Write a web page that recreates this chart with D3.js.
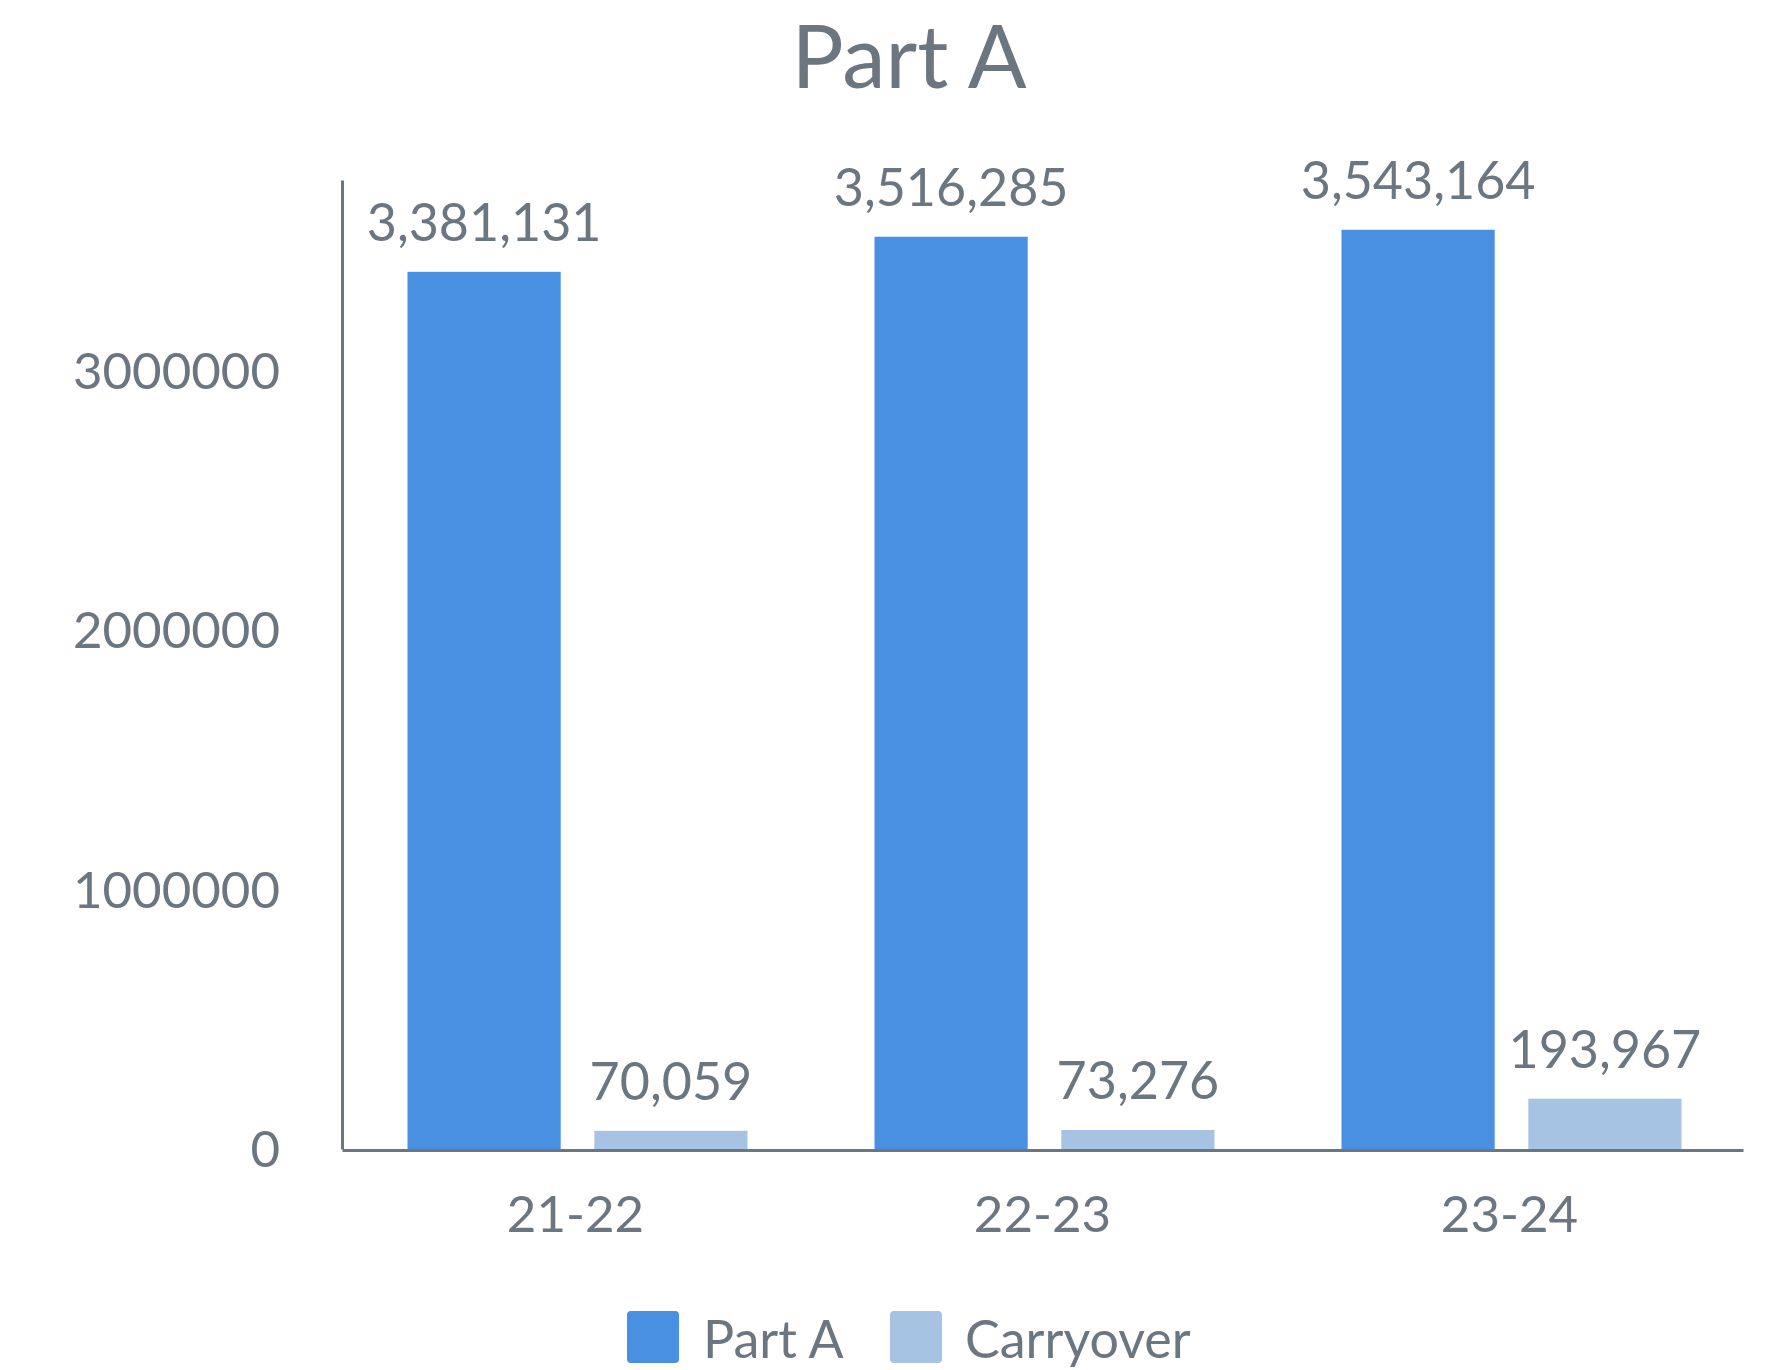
<!DOCTYPE html>
<html>
<head>
<meta charset="utf-8">
<script src="https://cdn.jsdelivr.net/npm/d3@7"></script>
<style>
  html, body { margin: 0; padding: 0; background: #ffffff; }
  svg { display: block; font-family: Lato, "Open Sans", sans-serif; }
</style>
</head>
<body>
<svg id="chart" width="1772" height="1370"></svg>
<script>
const categories = ["21-22", "22-23", "23-24"];
const seriesNames = ["Part A", "Carryover"];
const partA = [3381131, 3516285, 3543164];
const carryover = [70059, 73276, 193967];
const yTicks = [0, 1000000, 2000000, 3000000];
const yMax = 3735000;
const colors = ["#4a90e2", "#a7c3e3"];
const textColor = "#6c7680";

(function () {
const svg = d3.select("#chart");
const plotLeft = 342, plotRight = 1743, plotTop = 180, plotBottom = 1149;

const x0 = d3.scaleBand().domain(categories).range([plotLeft, plotRight]).paddingInner(0).paddingOuter(0);
const x1 = d3.scaleBand().domain(seriesNames).range([2, x0.bandwidth() + 2]).paddingInner(0.18).paddingOuter(0.34);
const y = d3.scaleLinear().domain([0, yMax]).range([plotBottom, plotTop]);
const color = d3.scaleOrdinal().domain(seriesNames).range(colors);

const rows = categories.map((c, i) => ({cat: c, values: [
  {name: "Part A", value: partA[i]},
  {name: "Carryover", value: carryover[i]}
]}));

// Title
svg.append("text")
  .attr("x", 909).attr("y", 88)
  .attr("text-anchor", "middle")
  .attr("font-size", 87)
  .attr("fill", textColor)
  .text("Part A");

// Bars
const groups = svg.append("g").selectAll("g").data(rows).join("g")
  .attr("transform", d => `translate(${x0(d.cat)},0)`);

groups.selectAll("rect").data(d => d.values).join("rect")
  .attr("x", d => x1(d.name))
  .attr("y", d => y(d.value))
  .attr("width", x1.bandwidth())
  .attr("height", d => y(0) - y(d.value))
  .attr("fill", d => color(d.name));

const fmt = d3.format(",");
groups.selectAll("text.val").data(d => d.values).join("text")
  .attr("class", "val")
  .attr("x", d => x1(d.name) + x1.bandwidth() / 2)
  .attr("y", d => y(d.value) - 31)
  .attr("text-anchor", "middle")
  .attr("font-size", 52)
  .attr("fill", textColor)
  .text(d => fmt(d.value));

// Y axis
const yAxis = d3.axisLeft(y).tickValues(yTicks).tickFormat(d3.format("d")).tickSize(0).tickPadding(62);
const gy = svg.append("g").attr("transform", `translate(${plotLeft},0)`).call(yAxis);
gy.select(".domain").attr("stroke", textColor).attr("stroke-width", 3);
gy.selectAll("text").attr("font-size", 51).attr("fill", textColor).attr("font-family", "Lato, sans-serif").attr("dy", "0.35em");

// X axis
const xAxis = d3.axisBottom(x0).tickSize(0).tickPadding(46);
const gx = svg.append("g").attr("transform", `translate(0,${plotBottom + 1})`).call(xAxis);
gx.select(".domain").attr("stroke", textColor).attr("stroke-width", 3);
gx.selectAll("text").attr("font-size", 51).attr("fill", textColor).attr("font-family", "Lato, sans-serif").attr("dy", "0.71em");

// Legend
const legendItems = [
  {name: "Part A", sx: 627, tx: 703},
  {name: "Carryover", sx: 890, tx: 965}
];
const lg = svg.append("g").selectAll("g").data(legendItems).join("g");
lg.append("rect")
  .attr("x", d => d.sx).attr("y", 1311)
  .attr("width", 52).attr("height", 52)
  .attr("rx", 4).attr("ry", 4)
  .attr("fill", d => color(d.name));
lg.append("text")
  .attr("x", d => d.tx).attr("y", 1358)
  .attr("font-size", 52)
  .attr("fill", textColor)
  .text(d => d.name);
})();
</script>
</body>
</html>
